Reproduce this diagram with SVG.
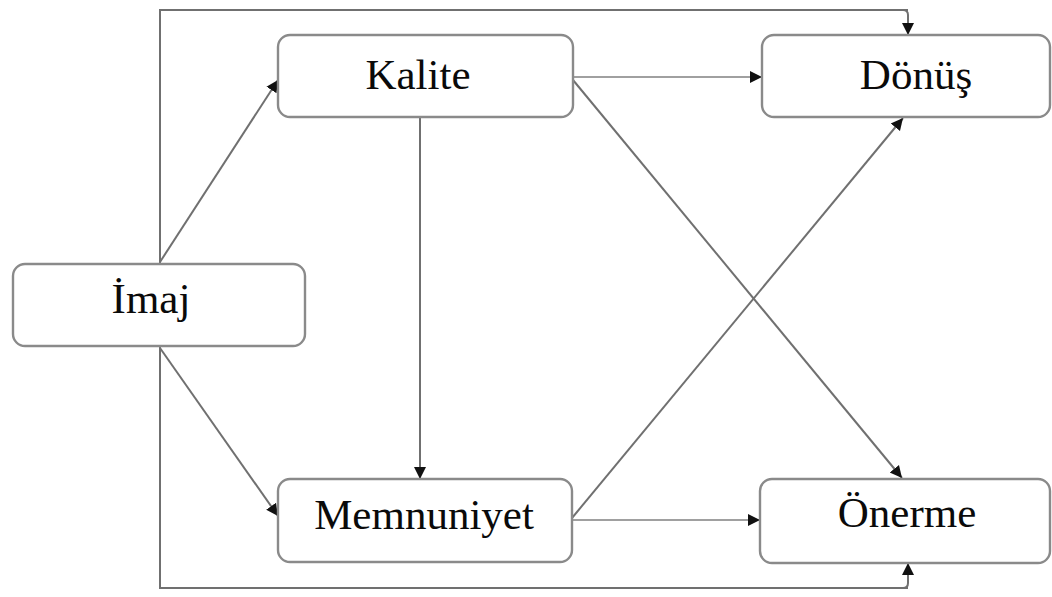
<svg xmlns="http://www.w3.org/2000/svg" width="1052" height="597" viewBox="0 0 1052 597">
<style>
.box{fill:#fff;stroke:#8a8a8a;stroke-width:2.4}
.lbl{font-size:43px;fill:#0a0a0a;text-anchor:middle}
.ln{fill:none;stroke:#707070;stroke-width:2}
.lt{fill:none;stroke:#a0a0a0;stroke-width:1.8}
</style>
<defs>
<marker id="ah" markerUnits="userSpaceOnUse" markerWidth="14" markerHeight="14" refX="12" refY="7" orient="auto">
<path d="M0,1 L12,7 L0,13 z" fill="#111"/>
</marker>
</defs>
<rect width="1052" height="597" fill="#fff"/>
<g id="connectors">
<path class="ln" d="M908,10 L160,10 L160,588 L908,588"/>
<path class="ln" d="M903,10 Q908,10 908,15 L908,35" marker-end="url(#ah)"/>
<path class="ln" d="M903,588 Q908,588 908,583 L908,563" marker-end="url(#ah)"/>
<line class="ln" x1="160" y1="262" x2="278" y2="80" marker-end="url(#ah)"/>
<line class="ln" x1="160" y1="348" x2="278" y2="516" marker-end="url(#ah)"/>
<line class="ln" x1="420" y1="117" x2="420" y2="479" marker-end="url(#ah)"/>
<line class="lt" x1="573" y1="77" x2="762" y2="77" marker-end="url(#ah)"/>
<line class="lt" x1="572" y1="520" x2="760" y2="520" marker-end="url(#ah)"/>
<line class="ln" x1="573" y1="80" x2="902" y2="478" marker-end="url(#ah)"/>
<line class="ln" x1="572" y1="518" x2="903" y2="118" marker-end="url(#ah)"/>
</g>
<g font-family="'Liberation Serif', 'DejaVu Serif', serif">
<g id="imaj"><rect class="box" x="13" y="264" width="292" height="82" rx="12"/><text class="lbl" x="151" y="313">İmaj</text></g>
<g id="kalite"><rect class="box" x="278" y="35" width="295" height="82" rx="12"/><text class="lbl" x="418" y="89">Kalite</text></g>
<g id="memnuniyet"><rect class="box" x="278" y="479" width="294" height="83" rx="12"/><text class="lbl" x="424" y="529">Memnuniyet</text></g>
<g id="donus"><rect class="box" x="762" y="35" width="288" height="82" rx="12"/><text class="lbl" x="916" y="89">Dönüş</text></g>
<g id="onerme"><rect class="box" x="760" y="479" width="290" height="84" rx="12"/><text class="lbl" x="907" y="527">Önerme</text></g>
</g>
</svg>
